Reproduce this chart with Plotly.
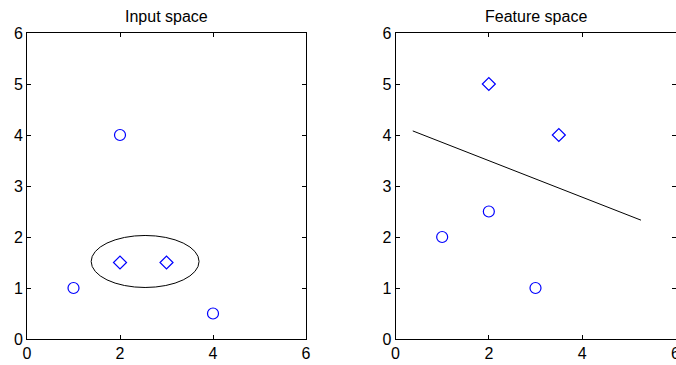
import plotly.graph_objects as go

# Input space: two classes
input_circle_x = [1, 2, 4]
input_circle_y = [1, 4, 0.5]
input_diamond_x = [2, 3]
input_diamond_y = [1.5, 1.5]

# Ellipse enclosing the diamond class in input space (bounding box)
ellipse_x = [1.38, 3.70]
ellipse_y = [1.01, 2.03]

# Feature space: mapped points
feature_circle_x = [1, 2, 3]
feature_circle_y = [2, 2.5, 1]
feature_diamond_x = [2, 3.5]
feature_diamond_y = [5, 4]

# Linear separator in feature space
separator_x = [0.37, 5.26]
separator_y = [4.08, 2.33]

titles = ["Input space", "Feature space"]

BLUE = "#0000ff"
FONT = "Liberation Sans, Arial, sans-serif"

fig = go.Figure()

marker_circle = dict(symbol="circle-open", size=11, color=BLUE, line=dict(width=1.2, color=BLUE))
marker_diamond = dict(symbol="diamond-open", size=10, color=BLUE, line=dict(width=1.2, color=BLUE))

fig.add_trace(go.Scatter(x=input_circle_x, y=input_circle_y, mode="markers",
                         marker=marker_circle, xaxis="x", yaxis="y"))
fig.add_trace(go.Scatter(x=input_diamond_x, y=input_diamond_y, mode="markers",
                         marker=marker_diamond, xaxis="x", yaxis="y"))
fig.add_trace(go.Scatter(x=feature_circle_x, y=feature_circle_y, mode="markers",
                         marker=marker_circle, xaxis="x2", yaxis="y2"))
fig.add_trace(go.Scatter(x=feature_diamond_x, y=feature_diamond_y, mode="markers",
                         marker=marker_diamond, xaxis="x2", yaxis="y2"))
fig.add_trace(go.Scatter(x=separator_x, y=separator_y, mode="lines",
                         line=dict(color="black", width=1), xaxis="x2", yaxis="y2"))

fig.add_shape(type="circle", xref="x", yref="y",
              x0=ellipse_x[0], x1=ellipse_x[1], y0=ellipse_y[0], y1=ellipse_y[1],
              line=dict(color="black", width=1))

W, H = 676, 365

def axis(domain, dtick, anchor):
    return dict(domain=domain, range=[0, 6], dtick=dtick, tick0=0,
                showline=True, linecolor="black", linewidth=1, mirror="ticks",
                ticks="inside", ticklen=4, tickcolor="black", tickwidth=1,
                showgrid=False, zeroline=False, anchor=anchor, automargin=False,
                ticklabeloverflow="allow",
                tickfont=dict(family=FONT, size=16, color="black"))

fig.update_layout(
    width=W, height=H,
    margin=dict(l=0, r=0, t=33, b=26),
    plot_bgcolor="white", paper_bgcolor="white",
    showlegend=False,
    xaxis=axis([27 / W, 306 / W], 2, "y"),
    yaxis=axis([0, 1], 1, "x"),
    xaxis2=axis([395.5 / W, 675.5 / W], 2, "y2"),
    yaxis2=axis([0, 1], 1, "x2"),
    annotations=[
        dict(text=titles[0], xref="x domain", yref="paper", x=0.5, y=1,
             xanchor="center", yanchor="bottom", yshift=6, showarrow=False,
             font=dict(family=FONT, size=16, color="black")),
        dict(text=titles[1], xref="x2 domain", yref="paper", x=0.5, y=1,
             xanchor="center", yanchor="bottom", yshift=6, showarrow=False,
             font=dict(family=FONT, size=16, color="black")),
    ],
)

fig.write_html("out.html")
